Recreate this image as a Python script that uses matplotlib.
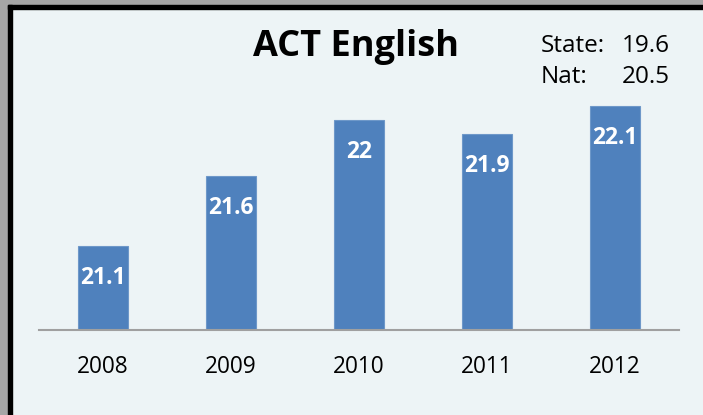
import matplotlib
matplotlib.use("Agg")
import matplotlib.pyplot as plt
from matplotlib.patches import Rectangle

years = ["2008", "2009", "2010", "2011", "2012"]
scores = [21.1, 21.6, 22, 21.9, 22.1]
labels = ["21.1", "21.6", "22", "21.9", "22.1"]
state_score = "19.6"
nat_score = "20.5"

plt.rcParams["font.family"] = ["Open Sans", "DejaVu Sans"]

bg = "#EDF4F6"
fig = plt.figure(figsize=(7.03, 4.15), dpi=100, facecolor=bg)

# frame: grey strip + black border on top and left
W, H = 703, 415
fig.patches.append(Rectangle((0, 1 - 5 / H), 1, 5 / H, transform=fig.transFigure,
                             color="#A6A6A6", zorder=0))
fig.patches.append(Rectangle((0, 0), 8 / W, 1, transform=fig.transFigure,
                             color="#A6A6A6", zorder=0))
fig.patches.append(Rectangle((8 / W, 1 - 9 / H), 1, 4 / H, transform=fig.transFigure,
                             color="black", zorder=1))
fig.patches.append(Rectangle((8 / W, 0), 4 / W, 1 - 5 / H, transform=fig.transFigure,
                             color="black", zorder=1))

ax = fig.add_axes([39 / W, 85 / H, 640 / W, 280 / H])
ax.set_facecolor("none")
x = range(len(years))
ax.bar(x, scores, width=0.39, color="#4F81BD", edgecolor="#6E98C9", linewidth=0.8)
ax.set_xlim(-0.5, 4.5)
ax.set_ylim(20.5, 22.5)

for i, (v, lab) in enumerate(zip(scores, labels)):
    ax.annotate(lab, (i, v), xytext=(0, -23), textcoords="offset points",
                ha="center", va="center", color="white", fontsize=16.5,
                fontweight="bold")

for s in ["top", "right", "left"]:
    ax.spines[s].set_visible(False)
ax.spines["bottom"].set_color("#A0A0A0")
ax.spines["bottom"].set_linewidth(1.5)
ax.set_yticks([])
ax.set_xticks(list(x))
ax.set_xticklabels(years, fontsize=16.3)
ax.tick_params(axis="x", length=0, pad=18)

fig.text(356 / W, 1 - 47 / H, "ACT English", ha="center", va="center",
         fontsize=26, fontweight="bold")
fig.text(541 / W, 1 - 46 / H, "State:", ha="left", va="center", fontsize=17.5)
fig.text(670 / W, 1 - 46 / H, state_score, ha="right", va="center", fontsize=17.5)
fig.text(541 / W, 1 - 77 / H, "Nat:", ha="left", va="center", fontsize=17.5)
fig.text(670 / W, 1 - 77 / H, nat_score, ha="right", va="center", fontsize=17.5)

fig.savefig("out.png", dpi=100, facecolor=bg)
